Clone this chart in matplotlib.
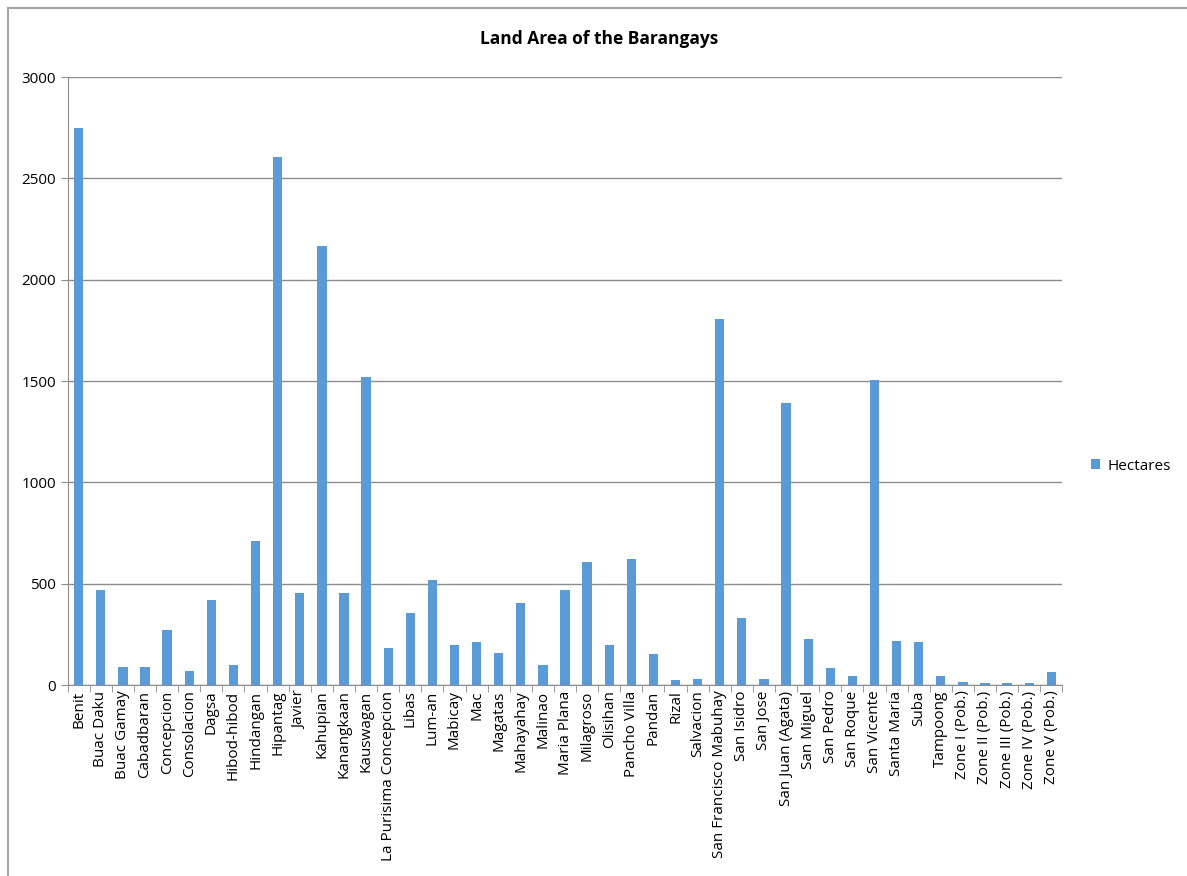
import numpy as np
import matplotlib.pyplot as plt
from matplotlib.patches import Rectangle

plt.rcParams['font.family'] = ['Open Sans', 'DejaVu Sans']

# barangay names and land area (hectares)
barangays = ["Benit", "Buac Daku", "Buac Gamay", "Cabadbaran", "Concepcion",
             "Consolacion", "Dagsa", "Hibod-hibod", "Hindangan", "Hipantag",
             "Javier", "Kahupian", "Kanangkaan", "Kauswagan",
             "La Purisima Concepcion", "Libas", "Lum-an", "Mabicay", "Mac",
             "Magatas", "Mahayahay", "Malinao", "Maria Plana", "Milagroso",
             "Olisihan", "Pancho Villa", "Pandan", "Rizal", "Salvacion",
             "San Francisco Mabuhay", "San Isidro", "San Jose",
             "San Juan (Agata)", "San Miguel", "San Pedro", "San Roque",
             "San Vicente", "Santa Maria", "Suba", "Tampoong",
             "Zone I (Pob.)", "Zone II (Pob.)", "Zone III (Pob.)",
             "Zone IV (Pob.)", "Zone V (Pob.)"]
hectares = [2750, 467, 91, 91, 272,
            69, 421, 98, 713, 2605,
            453, 2168, 453, 1520,
            182, 354, 518, 197, 213,
            159, 406, 98, 467, 607,
            197, 624, 151, 25, 32,
            1808, 331, 32,
            1394, 226, 84, 46,
            1507, 219, 213, 46,
            16, 10, 10,
            10, 62]

fig = plt.figure(figsize=(11.87, 8.76), dpi=100)
ax = fig.add_axes([0.057, 0.218, 0.838, 0.694])

x = np.arange(len(barangays))
ax.bar(x, hectares, width=0.42, color="#5B9BD5", label="Hectares", zorder=3)

ax.set_xlim(-0.5, len(barangays) - 0.5)
ax.set_ylim(0, 3000)
ax.set_yticks(np.arange(0, 3001, 500))
ax.yaxis.grid(True, color="#8C8C8C", linewidth=1)
ax.set_axisbelow(True)

ax.set_xticks(x)
ax.set_xticklabels(barangays, rotation=90, fontsize=11, color="#000000")
ax.set_xticks(np.arange(-0.5, len(barangays)), minor=True)
ax.tick_params(axis="x", which="major", length=0, pad=4)
ax.tick_params(axis="x", which="minor", length=5, color="#8C8C8C")
ax.tick_params(axis="y", length=5, color="#8C8C8C", labelsize=11)

for s in ["top", "right"]:
    ax.spines[s].set_visible(False)
for s in ["left", "bottom"]:
    ax.spines[s].set_color("#8C8C8C")

fig.text(0.505, 0.955, "Land Area of the Barangays", ha="center", va="center",
         fontsize=12.5, fontweight="bold")

ax.legend(loc="center left", bbox_to_anchor=(1.015, 0.36), frameon=False,
          fontsize=11, handlelength=0.6, handleheight=0.6, handletextpad=0.5)

# chart border (only top and left edges fall inside the picture)
fig.patches.append(Rectangle((8 / 1187, -0.1), 1.2, 1.1 - 8 / 876,
                             transform=fig.transFigure, fill=False,
                             edgecolor="#A6A6A6", linewidth=1.5))

fig.savefig("out.png", dpi=100)
